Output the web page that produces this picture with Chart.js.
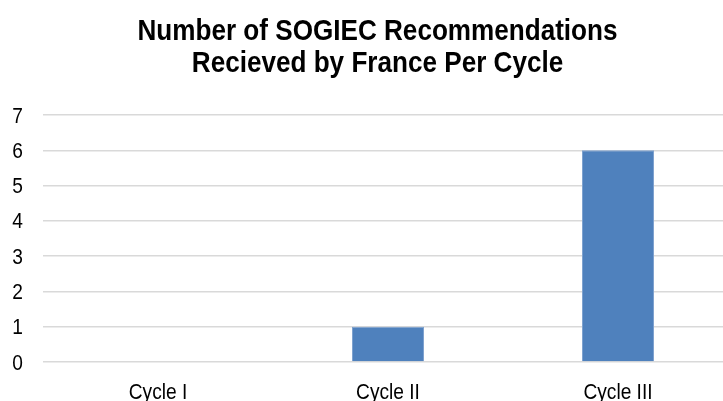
<!DOCTYPE html>
<html>
<head>
<meta charset="utf-8">
<script src="https://cdn.jsdelivr.net/npm/chart.js@4/dist/chart.umd.min.js"></script>
<style>
  html, body { margin: 0; padding: 0; background: #fff; overflow: hidden; }
  #wrap { width: 755px; height: 401px; position: relative; }
</style>
</head>
<body>
<div id="wrap"><canvas id="chart"></canvas></div>
<script>
const cycles = ["Cycle I", "Cycle II", "Cycle III"];
const recommendations = [0, 1, 6];
const yTicks = [0, 1, 2, 3, 4, 5, 6, 7];
const titleLines = ["Number of SOGIEC Recommendations", "Recieved by France Per Cycle"];

// no narrow font installed, so squeeze Liberation Sans sideways to look like Arial Narrow
const SQUEEZE = 0.87;
const FONT = '"Liberation Sans", Arial, sans-serif';

function drawSqueezed(ctx, text, x, y, font, align) {
  ctx.save();
  ctx.font = font;
  ctx.fillStyle = "#000";
  ctx.textAlign = "left";
  ctx.textBaseline = "alphabetic";
  const w = ctx.measureText(text).width * SQUEEZE;
  const left = align === "center" ? x - w / 2 : align === "right" ? x - w : x;
  ctx.translate(left, y);
  ctx.scale(SQUEEZE, 1);
  ctx.fillText(text, 0, 0);
  ctx.restore();
}

const squeezedText = {
  id: "squeezedText",
  afterDraw(chart) {
    const ctx = chart.ctx;
    const { x, y } = chart.scales;
    const cx = chart.width / 2;
    drawSqueezed(ctx, titleLines[0], cx, 39.5, "bold 30px " + FONT, "center");
    drawSqueezed(ctx, titleLines[1], cx, 71.5, "bold 30px " + FONT, "center");
    y.ticks.forEach((t) => {
      drawSqueezed(ctx, String(t.value), chart.chartArea.left - 20, y.getPixelForValue(t.value) + 7.5, "22px " + FONT, "right");
    });
    cycles.forEach((c, i) => {
      drawSqueezed(ctx, c, x.getPixelForTick(i), 399, "22px " + FONT, "center");
    });
  },
};

new Chart(document.getElementById("chart"), {
  type: "bar",
  data: {
    labels: cycles,
    datasets: [{
      label: "Recommendations",
      data: recommendations,
      backgroundColor: "#4f81bd",
      borderColor: "#7ea2cf",
      borderWidth: 1,
      barPercentage: 1,
      categoryPercentage: 0.313,
    }],
  },
  options: {
    responsive: true,
    maintainAspectRatio: false,
    animation: false,
    layout: { padding: { left: 43, right: 22, top: 115, bottom: 31 } },
    plugins: {
      legend: { display: false },
      tooltip: { enabled: false },
      title: { display: false },
    },
    scales: {
      x: {
        grid: { display: false },
        border: { display: false },
        ticks: { display: false },
      },
      y: {
        min: 0,
        max: 7,
        afterBuildTicks: (axis) => { axis.ticks = yTicks.map((v) => ({ value: v })); },
        grid: { color: "#d9d9d9", lineWidth: 1.5, drawTicks: false },
        border: { display: false },
        ticks: { display: false },
      },
    },
  },
  plugins: [squeezedText],
});
</script>
</body>
</html>
